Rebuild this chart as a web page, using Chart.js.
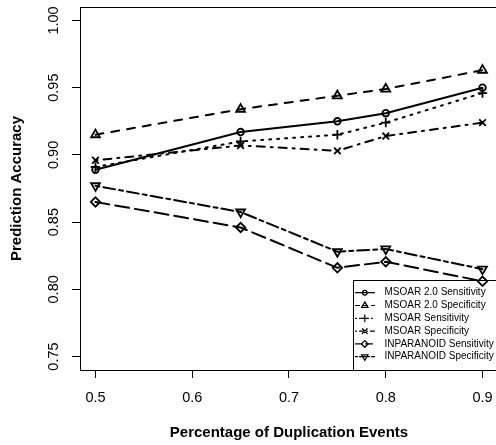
<!DOCTYPE html>
<html>
<head>
<meta charset="utf-8">
<script src="https://cdn.jsdelivr.net/npm/chart.js"></script>
<style>
  html, body { margin: 0; padding: 0; background: #fff; overflow: hidden; }
  #wrap { width: 500px; height: 445px; }
</style>
</head>
<body>
<div id="wrap"><canvas id="chart" width="500" height="445"></canvas></div>
<script>
// data
const dupRate = [0.5, 0.65, 0.75, 0.8, 0.9];
const msoar2Sens = [0.889, 0.917, 0.925, 0.931, 0.950];
const msoar2Spec = [0.915, 0.934, 0.944, 0.949, 0.963];
const msoarSens = [0.891, 0.910, 0.915, 0.924, 0.946];
const msoarSpec = [0.896, 0.907, 0.903, 0.914, 0.924];
const inpSens = [0.865, 0.846, 0.816, 0.8205, 0.806];
const inpSpec = [0.877, 0.8575, 0.828, 0.830, 0.815];

const seriesLabels = [
  'MSOAR 2.0 Sensitivity', 'MSOAR 2.0 Specificity',
  'MSOAR Sensitivity', 'MSOAR Specificity',
  'INPARANOID Sensitivity', 'INPARANOID Specificity'
];
const xTicks = [0.5, 0.6, 0.7, 0.8, 0.9];
const yTicks = [0.75, 0.80, 0.85, 0.90, 0.95, 1.00];

const FONT = "'Liberation Sans', Arial, Helvetica, sans-serif";

// R-like line types (lwd 2) and point symbols
const styles = [
  { dash: [], point: 'circle', r: 3.3, rot: 0 },
  { dash: [8, 8], point: 'triangle', r: 5.1, rot: 0 },
  { dash: [2, 6], point: 'cross', r: 4.7, rot: 0 },
  { dash: [2, 6, 8, 6], point: 'crossRot', r: 4.7, rot: 0 },
  { dash: [14, 6], point: 'rectRot', r: 4.7, rot: 0 },
  { dash: [4, 4, 12, 4], point: 'triangle', r: 5.1, rot: 180 }
];

const series = [msoar2Sens, msoar2Spec, msoarSens, msoarSpec, inpSens, inpSpec];

const datasets = series.map((vals, i) => ({
  label: seriesLabels[i],
  data: vals.map((v, j) => ({ x: dupRate[j], y: v })),
  borderColor: '#000',
  borderWidth: 2,
  borderDash: styles[i].dash,
  borderCapStyle: 'round',
  backgroundColor: 'transparent',
  pointStyle: styles[i].point,
  pointRadius: styles[i].r,
  pointRotation: styles[i].rot,
  pointBorderWidth: 1.8,
  pointBorderColor: '#000',
  pointBackgroundColor: 'transparent',
  fill: false,
  tension: 0
}));

// plot frame
const boxPlugin = {
  id: 'box',
  afterDraw(chart) {
    const { ctx, chartArea: a } = chart;
    ctx.save();
    ctx.strokeStyle = '#000';
    ctx.lineWidth = 1;
    ctx.strokeRect(a.left + 0.5, a.top + 0.5, a.right - a.left, a.bottom - a.top);
    ctx.restore();
  }
};

// R style legend in the bottom right corner
const legendPlugin = {
  id: 'rlegend',
  afterDraw(chart) {
    const { ctx, chartArea: a } = chart;
    const left = a.right - 145, top = a.bottom - 90;
    ctx.save();
    ctx.strokeStyle = '#000';
    ctx.lineWidth = 1;
    ctx.strokeRect(left + 0.5, top + 0.5, a.right - left, a.bottom - top);
    chart.data.datasets.forEach((ds, i) => {
      const y = top + 12.7 + i * 12.8;
      ctx.beginPath();
      ctx.lineWidth = 1.2;
      ctx.lineCap = 'round';
      ctx.setLineDash(ds.borderDash.map(d => d / 2));
      ctx.moveTo(left + 2.5, y);
      ctx.lineTo(left + 21.5, y);
      ctx.stroke();
      ctx.setLineDash([]);
      ctx.strokeStyle = '#000';
      ctx.fillStyle = 'transparent';
      Chart.helpers.drawPoint(ctx, {
        pointStyle: ds.pointStyle,
        rotation: ds.pointRotation,
        radius: ds.pointRadius * 0.72,
        borderWidth: 1.3
      }, left + 11.8, y);
      ctx.fillStyle = '#000';
      ctx.font = '10px ' + FONT;
      ctx.textBaseline = 'middle';
      ctx.textAlign = 'left';
      ctx.fillText(ds.label, left + 31.5, y);
    });
    ctx.restore();
  }
};

new Chart(document.getElementById('chart'), {
  type: 'line',
  data: { datasets },
  plugins: [boxPlugin, legendPlugin],
  options: {
    responsive: false,
    animation: false,
    devicePixelRatio: 1,
    layout: { autoPadding: false, padding: { top: 7, right: 2, bottom: 0, left: 0 } },
    plugins: { legend: { display: false }, tooltip: { enabled: false } },
    scales: {
      x: {
        type: 'linear',
        min: 0.484,
        max: 0.916,
        afterBuildTicks: s => { s.ticks = xTicks.map(v => ({ value: v })); },
        afterFit: s => { s.height = 75; s.paddingLeft = 0; s.paddingRight = 0; },
        border: { display: false },
        grid: { drawOnChartArea: false, drawTicks: true, tickLength: 8, tickColor: '#000', tickWidth: 1 },
        ticks: {
          autoSkip: false, maxRotation: 0, padding: 11, color: '#000',
          font: { family: FONT, size: 14.5 },
          callback: v => v.toFixed(1)
        },
        title: {
          display: true, text: 'Percentage of Duplication Events', color: '#000',
          font: { family: FONT, size: 15, weight: 'bold' },
          padding: { top: 0, bottom: 3 }
        }
      },
      y: {
        type: 'linear',
        min: 0.74,
        max: 1.01,
        afterBuildTicks: s => { s.ticks = yTicks.map(v => ({ value: v })); },
        afterFit: s => { s.width = 80; s.paddingTop = 0; s.paddingBottom = 0; },
        border: { display: false },
        grid: { drawOnChartArea: false, drawTicks: true, tickLength: 8, tickColor: '#000', tickWidth: 1 },
        ticks: {
          autoSkip: false, minRotation: 90, maxRotation: 90, crossAlign: 'center',
          padding: 4, color: '#000',
          font: { family: FONT, size: 14.5 },
          callback: v => v.toFixed(2)
        },
        title: {
          display: true, text: 'Prediction Accuracy', color: '#000',
          font: { family: FONT, size: 15, weight: 'bold' },
          padding: { top: 8, bottom: 0 }
        }
      }
    }
  }
});
</script>
</body>
</html>
